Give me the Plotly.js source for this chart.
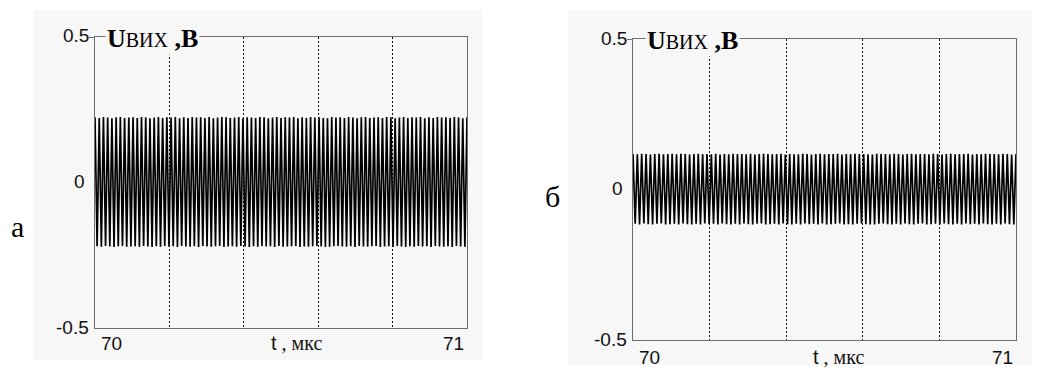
<!DOCTYPE html>
<html>
<head>
<meta charset="utf-8">
<script src="https://cdn.plot.ly/plotly-3.0.1.min.js"></script>
<style>html,body{margin:0;padding:0;background:#fff;}#chart{width:1048px;height:369px;}</style>
</head>
<body>
<div id="chart"></div>
<script>
// ---- data ----
const timeRange = [70, 71];            // мкс
const cyclesA = 88;                    // oscillation periods visible in window (а)
const cyclesB = 88;                    // oscillation periods visible in window (б)
const gridTimes = [70.2, 70.4, 70.6, 70.8];
const yTickValues = [-0.5, 0, 0.5];
const yTickLabels = ["-0.5", "0", "0.5"];
const xTickValues = [70, 71];
const xTickLabels = ["70", "71"];

// positive / negative extrema of output voltage, chart а
const peaksA = [0.224,0.222,0.225,0.223,0.221,0.224,0.225,0.222,0.223,0.224,
0.222,0.225,0.224,0.221,0.223,0.225,0.222,0.224,0.223,0.225,
0.221,0.224,0.222,0.225,0.223,0.224,0.222,0.225,0.221,0.223,
0.225,0.224,0.222,0.223,0.225,0.221,0.224,0.223,0.222,0.225,
0.224,0.221,0.223,0.225,0.222,0.224,0.223,0.225,0.221,0.224,
0.222,0.225,0.223,0.224,0.222,0.221,0.225,0.223,0.224,0.222,
0.225,0.223,0.221,0.224,0.225,0.222,0.223,0.224,0.222,0.225,
0.224,0.221,0.223,0.225,0.222,0.224,0.223,0.225,0.221,0.224,
0.222,0.225,0.223,0.224,0.222,0.225,0.223,0.221,0.224];
const troughsA = [-0.219,-0.221,-0.218,-0.220,-0.222,-0.219,-0.218,-0.221,-0.220,-0.219,
-0.221,-0.218,-0.220,-0.222,-0.219,-0.221,-0.218,-0.220,-0.219,-0.222,
-0.218,-0.220,-0.221,-0.219,-0.222,-0.218,-0.220,-0.221,-0.219,-0.218,
-0.222,-0.220,-0.219,-0.221,-0.218,-0.220,-0.222,-0.219,-0.221,-0.218,
-0.220,-0.219,-0.222,-0.218,-0.221,-0.220,-0.219,-0.218,-0.222,-0.220,
-0.221,-0.219,-0.218,-0.220,-0.222,-0.221,-0.219,-0.218,-0.220,-0.221,
-0.219,-0.222,-0.218,-0.220,-0.221,-0.219,-0.218,-0.222,-0.220,-0.219,
-0.221,-0.218,-0.220,-0.222,-0.219,-0.221,-0.218,-0.220,-0.219,-0.222,
-0.218,-0.220,-0.221,-0.219,-0.222,-0.218,-0.220,-0.221];

// positive / negative extrema of output voltage, chart б
const peaksB = [0.118,0.117,0.119,0.118,0.116,0.118,0.119,0.117,0.118,0.119,
0.117,0.119,0.118,0.116,0.118,0.119,0.117,0.118,0.117,0.119,
0.116,0.118,0.117,0.119,0.118,0.118,0.117,0.119,0.116,0.118,
0.119,0.118,0.117,0.118,0.119,0.116,0.118,0.117,0.117,0.119,
0.118,0.116,0.118,0.119,0.117,0.118,0.118,0.119,0.116,0.118,
0.117,0.119,0.118,0.118,0.117,0.116,0.119,0.118,0.118,0.117,
0.119,0.118,0.116,0.118,0.119,0.117,0.118,0.118,0.117,0.119,
0.118,0.116,0.118,0.119,0.117,0.118,0.118,0.119,0.116,0.118,
0.117,0.119,0.118,0.118,0.117,0.119,0.118,0.116,0.118];
const troughsB = [-0.114,-0.116,-0.113,-0.115,-0.116,-0.114,-0.113,-0.116,-0.115,-0.114,
-0.116,-0.113,-0.115,-0.116,-0.114,-0.116,-0.113,-0.115,-0.114,-0.116,
-0.113,-0.115,-0.116,-0.114,-0.116,-0.113,-0.115,-0.116,-0.114,-0.113,
-0.116,-0.115,-0.114,-0.116,-0.113,-0.115,-0.116,-0.114,-0.116,-0.113,
-0.115,-0.114,-0.116,-0.113,-0.116,-0.115,-0.114,-0.113,-0.116,-0.115,
-0.116,-0.114,-0.113,-0.115,-0.116,-0.116,-0.114,-0.113,-0.115,-0.116,
-0.114,-0.116,-0.113,-0.115,-0.116,-0.114,-0.113,-0.116,-0.115,-0.114,
-0.116,-0.113,-0.115,-0.116,-0.114,-0.116,-0.113,-0.115,-0.114,-0.116,
-0.113,-0.115,-0.116,-0.114,-0.116,-0.113,-0.115,-0.116];

// ---- build waveform (extrema placed on the sampling clock) ----
function wave(peaks, troughs, cycles) {
  const v = [];
  for (let i = 0; i < peaks.length; i++) {
    v.push(peaks[i]);
    if (i < troughs.length) v.push(troughs[i]);
  }
  const step = (timeRange[1] - timeRange[0]) / (2 * cycles);
  const t = v.map((_, i) => Math.min(timeRange[0] + i * step, timeRange[1]));
  return {t, v};
}
const wA = wave(peaksA, troughsA, cyclesA);
const wB = wave(peaksB, troughsB, cyclesB);

const W = 1048, H = 369;
const px = x => x / W, py = y => 1 - y / H;

const traces = [
  {x: wA.t, y: wA.v, xaxis: 'x', yaxis: 'y', type: 'scatter', mode: 'lines',
   line: {color: '#000', width: 1.7}, hoverinfo: 'skip'},
  {x: wB.t, y: wB.v, xaxis: 'x2', yaxis: 'y2', type: 'scatter', mode: 'lines',
   line: {color: '#000', width: 1.7}, hoverinfo: 'skip'}
];

function xax(d) {
  return {domain: d, range: timeRange, showline: true, mirror: true, linecolor: '#6e6e6e', linewidth: 1.2,
    tickvals: gridTimes, showticklabels: false, ticks: '', showgrid: true, gridcolor: '#111',
    gridwidth: 1, griddash: '2px,2px', zeroline: false, fixedrange: true};
}
function yax(d, anchor) {
  return {domain: d, range: [-0.5, 0.5], showline: true, mirror: true, linecolor: '#6e6e6e', linewidth: 1.2,
    tickvals: [0.5], ticks: 'outside', ticklen: 5, tickcolor: '#6e6e6e', showticklabels: false,
    showgrid: false, zeroline: false, anchor: anchor, fixedrange: true};
}

const layout = {
  width: W, height: H, margin: {l: 0, r: 0, t: 0, b: 0},
  paper_bgcolor: '#ffffff', plot_bgcolor: 'rgba(0,0,0,0)', showlegend: false,
  xaxis: Object.assign(xax([px(95), px(467)]), {anchor: 'y'}),
  yaxis: yax([py(328), py(37)], 'x'),
  xaxis2: Object.assign(xax([px(633), px(1016)]), {anchor: 'y2'}),
  yaxis2: yax([py(340), py(39)], 'x2'),
  shapes: [
    {type: 'rect', xref: 'paper', yref: 'paper', x0: px(33), x1: px(482), y0: py(360), y1: py(10),
     fillcolor: '#f7f7f7', line: {width: 0}, layer: 'below'},
    {type: 'rect', xref: 'paper', yref: 'paper', x0: px(568), x1: px(1032), y0: py(365), y1: py(10),
     fillcolor: '#f7f7f7', line: {width: 0}, layer: 'below'}
  ],
  annotations: []
};

const sans = {family: 'Liberation Sans, Arial, sans-serif', size: 19, color: '#111'};
const serif = {family: 'Liberation Serif, Times New Roman, serif', size: 26, color: '#000'};
function ann(text, x, y, xanchor, font, extra) {
  layout.annotations.push(Object.assign({text: text, xref: 'paper', yref: 'paper', x: px(x), y: py(y),
    xanchor: xanchor, yanchor: 'middle', showarrow: false, font: font}, extra || {}));
}
// y tick labels
const yPanels = [{right: 91, top: 37, bottom: 328}, {right: 629, top: 39, bottom: 340}];
yPanels.forEach(p => {
  yTickValues.forEach((v, i) => {
    const y = p.bottom - (v + 0.5) * (p.bottom - p.top);
    ann(yTickLabels[i], p.right - (v === 0 ? 4 : 0), y - 1, 'right', sans);
  });
});
// x tick labels
const xPanels = [{l: 95, r: 467, y: 343}, {l: 633, r: 1016, y: 357}];
xPanels.forEach(p => {
  ann(xTickLabels[0], p.l + 16, p.y, 'center', sans);
  ann(xTickLabels[1], p.r - 14, p.y, 'center', sans);
});
// x axis titles
const xt = '<span style="font-family:Liberation Sans,Arial;font-size:20px">t</span> , мкс';
ann(xt, 269, 343, 'left', {family: 'Liberation Serif, serif', size: 20, color: '#111'});
ann(xt, 811, 357, 'left', {family: 'Liberation Serif, serif', size: 20, color: '#111'});
// y axis titles
const yt = '<b>U</b><span style="font-size:20px">ВИХ</span><b> ,В</b>';
ann(yt, 105, 38, 'left', serif, {bgcolor: '#f7f7f7', borderpad: 1});
ann(yt, 645, 40, 'left', serif, {bgcolor: '#f7f7f7', borderpad: 1});
// panel letters
ann('а', 17, 226, 'center', {family: 'Liberation Serif, serif', size: 30, color: '#000'});
ann('б', 552, 196, 'center', {family: 'Liberation Serif, serif', size: 30, color: '#000'});

Plotly.newPlot('chart', traces, layout, {staticPlot: true, displayModeBar: false});
</script>
</body>
</html>
